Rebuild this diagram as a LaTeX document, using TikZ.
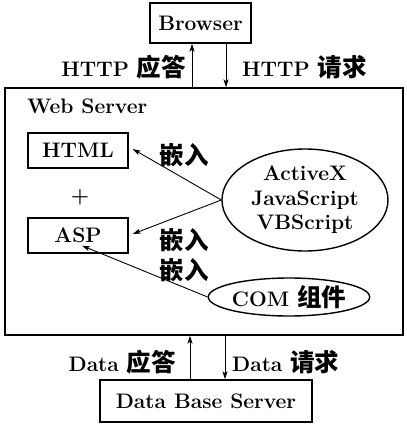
\documentclass[tikz,border=0pt]{standalone}
\usepackage{fontspec}
\newfontfamily\cjk{Noto Sans CJK SC Bold}
\newcommand{\zh}[1]{{\cjk\fontsize{24.5}{25}\selectfont #1}}
\usetikzlibrary{arrows.meta,shapes.geometric}
\begin{document}
\begin{tikzpicture}[x=1pt,y=-1pt,
  txt/.style={font=\fontsize{21}{24.5}\selectfont\bfseries},
  box/.style={txt,draw,line width=1.4pt,inner sep=0pt},
  oval/.style={txt,draw,ellipse,line width=1.4pt,inner sep=0pt},
  lbl/.style={txt,inner sep=0pt},
  conn/.style={line width=0.9pt,-{Stealth[length=8pt,width=5pt,inset=2pt]}}]
\useasboundingbox (0,0) rectangle (407,426);
\node[box,minimum width=101pt,minimum height=40pt] (browser) at (200.5,23) {Browser};
\node[draw,line width=1.4pt,minimum width=398pt,minimum height=247pt,inner sep=0pt] (web) at (204,211.5) {};
\node[lbl,anchor=west] (webl) at (27,106) {Web Server};
\node[box,minimum width=100pt,minimum height=35pt] (html) at (78,150.5) {HTML};
\node[lbl] (plus) at (80,197) {+};
\node[box,minimum width=100pt,minimum height=35pt] (asp) at (78,235.5) {ASP};
\node[oval,minimum width=166pt,minimum height=102pt,align=center] (scr) at (305,200)
  {ActiveX\\JavaScript\\VBScript};
\node[oval,minimum width=158pt,minimum height=38pt] (com) at (289,297) {COM \zh{组件}};
\node[box,minimum width=212pt,minimum height=42pt] (db) at (206,401) {Data Base Server};
% top arrows
\draw[conn] ([xshift=-8.5pt]browser.south |- web.north) -- ([xshift=-8.5pt]browser.south);
\draw[conn] ([xshift=25.5pt]browser.south) -- ([xshift=25.5pt]browser.south |- web.north);
\node[lbl,anchor=east] (hresp) at (186,67) {HTTP \zh{应答}};
\node[lbl,anchor=west] (hreq) at (242,67) {HTTP \zh{请求}};
% bottom arrows
\draw[conn] ([xshift=-16pt]db.north) -- ([xshift=-16pt]db.north |- web.south);
\draw[conn] ([xshift=19pt]db.north |- web.south) -- ([xshift=19pt]db.north);
\node[lbl,anchor=east] (dresp) at (176,362) {Data \zh{应答}};
\node[lbl,anchor=west] (dreq) at (232,362) {Data \zh{请求}};
% embed arrows
\draw[conn] (scr.west) -- ([shift={(4pt,1.5pt)}]html.east);
\draw[conn] (scr.west) -- ([shift={(4pt,1.5pt)}]asp.east);
\draw[conn] (com.west) -- ([shift={(4pt,8pt)}]asp.south);
\node[lbl] (e1) at (184,155) {\zh{嵌入}};
\node[lbl] (e2) at (184,240) {\zh{嵌入}};
\node[lbl] (e3) at (184,270) {\zh{嵌入}};
\end{tikzpicture}
\end{document}
